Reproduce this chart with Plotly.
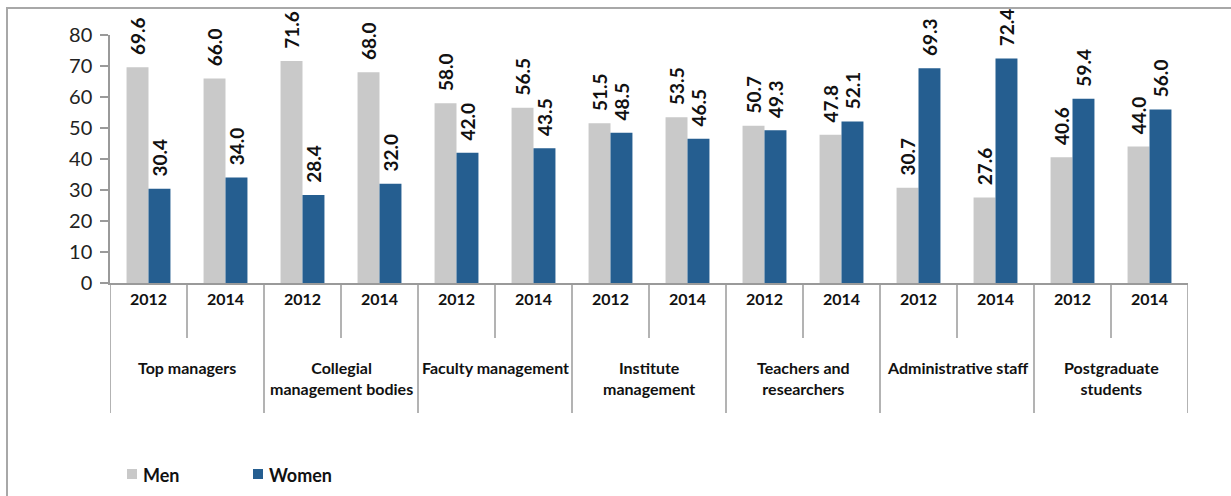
import plotly.graph_objects as go

# Data
groups = ["Top managers", "Collegial<br>management bodies", "Faculty management",
          "Institute<br>management", "Teachers and<br>researchers",
          "Administrative staff", "Postgraduate<br>students"]
years = ["2012", "2014"]
series = ["Men", "Women"]
men = [69.6, 66.0, 71.6, 68.0, 58.0, 56.5, 51.5, 53.5, 50.7, 47.8, 30.7, 27.6, 40.6, 44.0]
women = [30.4, 34.0, 28.4, 32.0, 42.0, 43.5, 48.5, 46.5, 49.3, 52.1, 69.3, 72.4, 59.4, 56.0]
y_ticks = [0, 10, 20, 30, 40, 50, 60, 70, 80]

MEN_COLOR = "#C9C9C9"
WOMEN_COLOR = "#255E90"
AXIS_COLOR = "#9A9A9A"
TEXT_COLOR = "#111111"
FONT = "Lato, 'Open Sans', sans-serif"
LABEL_PAD = "\u00a0\u00a0"  # keeps value labels clear of the bar tops

n_slots = len(groups) * len(years)
slots = list(range(n_slots))
colors = [MEN_COLOR, WOMEN_COLOR]

fig = go.Figure()
for name, vals, color in zip(series, [men, women], colors):
    fig.add_trace(go.Bar(
        x=slots, y=vals, name=name, marker=dict(color=color, line=dict(width=0)),
        text=[f"{LABEL_PAD}{v:.1f}" for v in vals], textposition="outside", textangle=-90,
        textfont=dict(family=FONT, size=19, color=TEXT_COLOR, weight="bold"),
        constraintext="none", cliponaxis=False, showlegend=False,
    ))

# Plot-area geometry (pixels) used to place the frame, category rows and legend
W, H = 1231, 496
ML, MR, MT, MB = 110, 43, 35, 213
pw, ph = W - ML - MR, H - MT - MB

def px_x(p):
    return (p - ML) / pw

def px_y(p):
    return (H - MB - p) / ph

shapes = []
# Outer frame
shapes.append(dict(type="rect", xref="paper", yref="paper",
                   x0=px_x(7), x1=px_x(1240), y0=px_y(8), y1=px_y(505),
                   line=dict(color="#A8A8A8", width=2), layer="below"))

# Category-axis dividers: short ones between years, long ones between groups
year_bottom = px_y(338)
group_bottom = px_y(413)
for k in range(n_slots + 1):
    xb = k - 0.5
    is_group = (k % len(years) == 0)
    shapes.append(dict(type="line", xref="x", yref="paper",
                       x0=xb, x1=xb, y0=0, y1=group_bottom if is_group else year_bottom,
                       line=dict(color=AXIS_COLOR, width=1.5)))

annotations = []
for i in slots:
    annotations.append(dict(x=i, y=px_y(298), xref="x", yref="paper",
                            xanchor="center", yanchor="middle",
                            text=years[i % len(years)], showarrow=False,
                            font=dict(family=FONT, size=16, color=TEXT_COLOR, weight="bold")))
for g, label in enumerate(groups):
    cx = g * len(years) + (len(years) - 1) / 2
    annotations.append(dict(x=cx, y=px_y(356), xref="x", yref="paper",
                            xanchor="center", yanchor="top",
                            text=label, showarrow=False, align="center",
                            font=dict(family=FONT, size=16, color=TEXT_COLOR, weight="bold")))

# Legend: colour swatch followed by series name
legend_left = [127, 253]
for name, color, lx in zip(series, colors, legend_left):
    shapes.append(dict(type="rect", xref="paper", yref="paper",
                       x0=px_x(lx), x1=px_x(lx + 10), y0=px_y(479), y1=px_y(469),
                       fillcolor=color, line=dict(width=0)))
    annotations.append(dict(x=px_x(lx + 14), y=px_y(475), xref="paper", yref="paper",
                            xanchor="left", yanchor="middle", text=name, showarrow=False,
                            font=dict(family=FONT, size=18, color=TEXT_COLOR, weight="bold")))

fig.update_layout(
    width=W, height=H,
    margin=dict(l=ML, r=MR, t=MT, b=MB, autoexpand=False),
    paper_bgcolor="white", plot_bgcolor="white",
    barmode="group", bargap=0.43, bargroupgap=0,
    shapes=shapes, annotations=annotations,
    showlegend=False,
    font=dict(family=FONT),
)
fig.update_xaxes(range=[-0.5, n_slots - 0.5], showticklabels=False, ticks="",
                 showline=True, linecolor=AXIS_COLOR, linewidth=1.5,
                 showgrid=False, zeroline=False, fixedrange=True)
fig.update_yaxes(range=[0, 80], tickvals=y_ticks, ticks="outside", ticklen=8,
                 tickcolor=AXIS_COLOR, tickwidth=1.5, ticklabelstandoff=4,
                 showline=True, linecolor=AXIS_COLOR, linewidth=1.5,
                 showgrid=False, zeroline=False,
                 tickfont=dict(family=FONT, size=20, color="#222222"))

fig.write_html("out.html")
